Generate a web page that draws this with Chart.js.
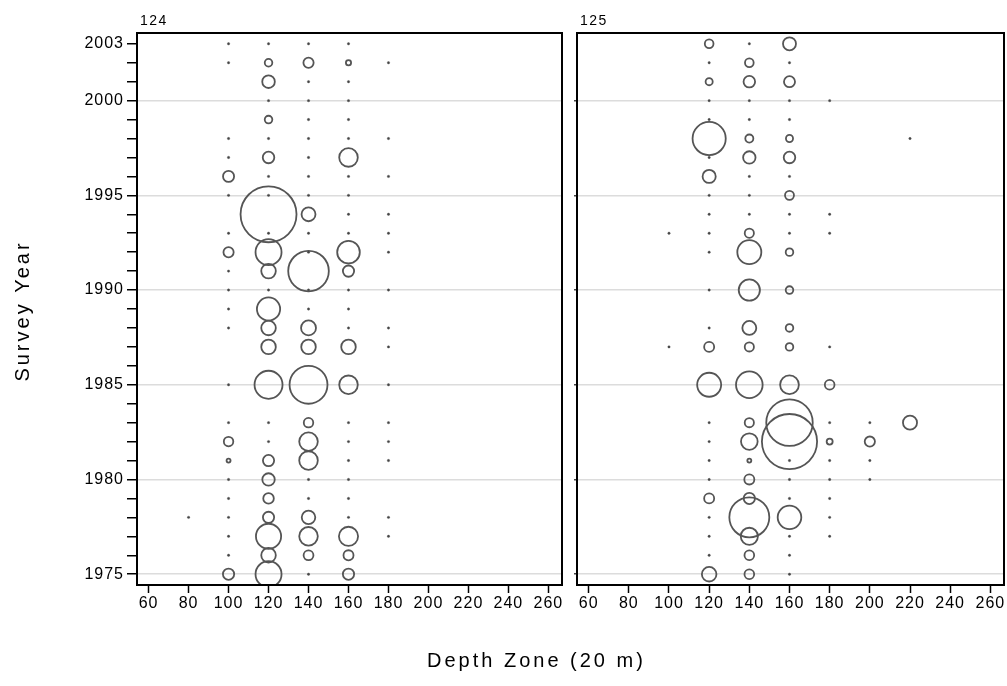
<!DOCTYPE html>
<html><head><meta charset="utf-8">
<script src="https://cdn.jsdelivr.net/npm/chart.js@4.4.0/dist/chart.umd.min.js"></script>
<style>
html,body{margin:0;padding:0;background:#fff;width:1007px;height:686px;overflow:hidden;}
#wrap{position:relative;width:1007px;height:686px;}
#c1{position:absolute;left:0;top:0;}
#c2{position:absolute;left:570px;top:0;}
#xt{position:absolute;left:427px;top:649px;white-space:nowrap;font:20px "Liberation Sans",Arial,sans-serif;letter-spacing:3px;color:#000;}
</style></head>
<body>
<div id="wrap">
<canvas id="c1" width="570" height="686"></canvas>
<canvas id="c2" width="437" height="686"></canvas>
<div id="xt">Depth Zone (20 m)</div>
</div>
<script>
// ---- data ----
const years = [1975,1976,1977,1978,1979,1980,1981,1982,1983,1984,1985,1986,1987,1988,1989,1990,1991,1992,1993,1994,1995,1996,1997,1998,1999,2000,2001,2002,2003];
const yearTickLabels = [1975,1980,1985,1990,1995,2000,2003];
const depthTicks = [60,80,100,120,140,160,180,200,220,240,260];
const panelNames = ["124","125"];

// Area 124: catch index by year (null = not surveyed, 0 = surveyed, none caught)
const depths124 = [80,100,120,140,160,180];
const a124_d080 = [null,null,null,0,null,null,null,null,null,null,null,null,null,null,null,null,null,null,null,null,null,null,null,null,null,null,null,null,null];
const a124_d100 = [3.5,0,0,0,0,0,0.44,2.5,0,null,0,null,null,0,0,0,0,2.9,0,null,0,3.4,0,0,null,null,null,0,0];
const a124_d120 = [18.8,5.9,17.6,3.5,3.1,4.3,3.5,0,0,null,21.8,null,5.9,5.9,15,0,5.9,18.8,0,87,0,0,3.7,0,1.6,0,4.4,1.6,0];
const a124_d140 = [0,2.7,9.6,5.1,0,0,9.6,9.6,2.5,null,40,null,5.9,6.2,0,0,45.8,0,0,5.4,0,0,0,0,0,0,0,2.9,0];
const a124_d160 = [3.5,2.8,10.2,0,0,0,0,0,0,null,9.6,null,5.9,0,0,0,3.5,14.2,0,0,0,0,9.6,0,0,0,0,0.75,0];
const a124_d180 = [null,null,0,0,null,null,0,0,0,null,0,null,0,0,null,0,null,0,0,0,null,0,null,0,null,null,null,0,null];

// Area 125
const depths125 = [100,120,140,160,180,200,220];
const a125_d100 = [null,null,null,null,null,null,null,null,null,null,null,null,0,null,null,null,null,null,0,null,null,null,null,null,null,null,null,null,null];
const a125_d120 = [5.9,0,0,0,2.8,0,0,0,0,null,16,null,2.8,0,null,0,null,0,0,0,0,4.8,0,30.6,0,0,1.4,0,2.1];
const a125_d140 = [2.6,2.6,8.2,44.4,3.5,2.8,0.44,7.7,2.35,null,19.7,null,2.35,5.4,null,12.5,null,16,2.35,0,0,0,4.3,1.8,0,0,3.7,2.1,0];
const a125_d160 = [0,0,0,15.5,0,0,0,84.6,60,null,9.8,null,1.6,1.6,null,1.6,null,1.6,0,0,2.25,0,3.7,1.4,0,0,3.4,0,4.7];
const a125_d180 = [null,null,0,0,0,0,0,1.0,0,null,2.6,null,0,null,null,null,null,null,0,0,null,null,null,null,null,0,null,null,null];
const a125_d200 = [null,null,null,null,null,0,0,2.9,0,null,null,null,null,null,null,null,null,null,null,null,null,null,null,null,null,null,null,null,null];
const a125_d220 = [null,null,null,null,null,null,null,null,5.5,null,null,null,null,null,null,null,null,null,null,null,null,null,null,0,null,null,null,null,null];

const series124 = [a124_d080,a124_d100,a124_d120,a124_d140,a124_d160,a124_d180];
const series125 = [a125_d100,a125_d120,a125_d140,a125_d160,a125_d180,a125_d200,a125_d220];

// ---- build ----
function points(depths, series){
  const out=[];
  depths.forEach((d,i)=>{
    series[i].forEach((v,j)=>{ if(v!==null) out.push({x:d,y:years[j],v:v}); });
  });
  return out;
}
const FONT = '"Liberation Sans", Arial, sans-serif';
const XMIN=54.2, XMAX=266.8, YMIN=1974.43, YMAX=2003.57;

function radiusOf(ctx){ const v = ctx.raw ? ctx.raw.v : 0; return v>0 ? 3*Math.sqrt(v) : 1.2; }

function makeChart(canvas, pts, name, isLeft){
  const plugins = [{
    id:'decor',
    beforeDraw(chart){ chart.ctx.letterSpacing='1px'; },
    afterDatasetsDraw(chart){
      const c=chart.ctx, a=chart.chartArea;
      c.save(); c.letterSpacing='0px';
      c.strokeStyle='#000'; c.lineWidth=2;
      c.strokeRect(a.left,a.top,a.right-a.left,a.bottom-a.top);
      c.restore();
    },
    afterDraw(chart){
      const c=chart.ctx, a=chart.chartArea;
      c.save();
      c.letterSpacing='1.5px';
      c.fillStyle='#000'; c.font='14px '+FONT; c.textAlign='left'; c.textBaseline='alphabetic';
      c.fillText(name, a.left+3, 25);
      if(isLeft){
        c.letterSpacing='3px';
        c.font='20px '+FONT; c.textAlign='center';
        c.translate(29,311); c.rotate(-Math.PI/2);
        c.fillText('Survey Year',0,0);
      }
      c.restore();
    }
  }];
  return new Chart(canvas,{
    type:'bubble',
    data:{datasets:[{
      data:pts,
      radius: radiusOf,
      hoverRadius:0,
      borderColor:'#555555',
      backgroundColor: ctx => (ctx.raw && ctx.raw.v>0) ? 'rgba(0,0,0,0)' : '#444444',
      borderWidth: ctx => (ctx.raw && ctx.raw.v>0) ? 1.8 : 0.4
    }]},
    options:{
      responsive:false, animation:false, events:[],
      layout:{autoPadding:false, padding:{top:33,left:0,bottom:0,right: isLeft?8:3}},
      plugins:{legend:{display:false},tooltip:{enabled:false},title:{display:false}},
      scales:{
        x:{type:'linear',min:XMIN,max:XMAX,
          afterBuildTicks: s => { s.ticks = depthTicks.map(v=>({value:v})); },
          afterFit: s => { s.height = 101; },
          ticks:{autoSkip:false,maxRotation:0,padding:1,color:'#000',font:{family:FONT,size:16},callback:v=>String(v)},
          grid:{drawOnChartArea:false,tickLength:8,tickColor:'#000',tickWidth:1.5},
          border:{display:false}
        },
        y:{type:'linear',min:YMIN,max:YMAX,
          afterBuildTicks: s => { s.ticks = years.map(v=>({value:v})); },
          afterFit: s => { s.width = isLeft ? 137 : 7; },
          ticks:{autoSkip:false,padding:3,color:'#000',font:{family:FONT,size:16},
            callback: v => (isLeft && yearTickLabels.includes(v)) ? String(v) : ''},
          grid:{
            color: ctx => (ctx.tick && ctx.tick.value%5===0) ? '#dcdcdc' : 'rgba(0,0,0,0)',
            lineWidth:1.5,
            tickLength: isLeft ? 10 : 3,
            tickWidth:1.5,
            tickColor: ctx => isLeft ? '#000' : ((ctx.tick && ctx.tick.value%5===0) ? '#444' : 'rgba(0,0,0,0)')
          },
          border:{display:false}
        }
      }
    },
    plugins
  });
}
makeChart(document.getElementById('c1'), points(depths124, series124), panelNames[0], true);
makeChart(document.getElementById('c2'), points(depths125, series125), panelNames[1], false);
</script>
</body></html>
